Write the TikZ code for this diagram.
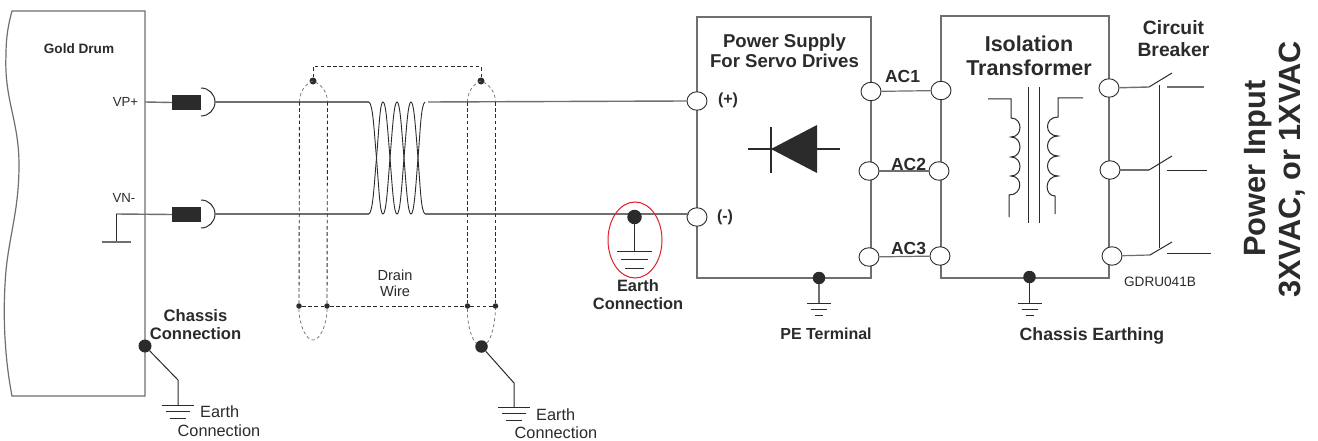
\documentclass[tikz,border=0pt]{standalone}
\usepackage{fontspec}
\setmainfont{Liberation Sans}
\usetikzlibrary{shapes.geometric,calc}
\definecolor{ink}{HTML}{2B2B2B}
\definecolor{wire}{HTML}{6F6F6F}
\definecolor{redring}{HTML}{E0202A}
\newcommand{\fs}[1]{\fontsize{#1}{#1}\selectfont}
\newcommand{\earth}[4]{% point, half width, step, inset
  \draw[gline] ($(#1)+(-#2,0)$) -- ($(#1)+(#2,0)$);
  \draw[gline] ($(#1)+(-#2+#4,#3)$) -- ($(#1)+(#2-#4,#3)$);
  \draw[gline] ($(#1)+(-#2+2*#4,2*#3)$) -- ($(#1)+(#2-2*#4,2*#3)$);}
\tikzset{
  x=1pt,y=-1pt,
  box/.style={draw=wire,line width=1.2pt,rectangle,inner sep=0pt,fill=white},
  term/.style={draw=ink,line width=0.9pt,fill=white,ellipse,minimum width=20pt,minimum height=18.5pt,inner sep=0pt},
  wireline/.style={wire,line width=1.4pt},
  acline/.style={wire,line width=1.2pt},
  gline/.style={ink,line width=1pt},
  dotb/.style={circle,fill=ink,inner sep=0pt,minimum size=#1},
  shield/.style={ink,line width=0.9pt,dash pattern=on 3.6pt off 2.6pt},
  shieldarc/.style={wire,line width=0.7pt,dash pattern=on 3.2pt off 2.6pt},
  lab/.style={text=ink,inner sep=0pt,align=center},
  plug/.style={fill=ink,draw=none,rectangle,minimum width=29pt,minimum height=15pt,inner sep=0pt},
}
\begin{document}
\begin{tikzpicture}
\useasboundingbox (0,0) rectangle (1318,441);
\fill[white] (0,0) rectangle (1318,441);

% ---------- Gold Drum body
\draw[wire,line width=1.2pt,fill=white] (12,11) -- (145,11) -- (145,396) -- (12,396)
  .. controls (5,360) and (3,320) .. (5,285)
  .. controls (7,240) and (19,215) .. (19,165)
  .. controls (19,120) and (4,100) .. (6,55)
  .. controls (6,35) and (9,22) .. (12,11) -- cycle;
\node[lab,font=\fs{13.6}\bfseries] (gold) at (79,49) {Gold Drum};
\node[lab,font=\fs{13.2}] (vp) at (125.5,102) {VP+};
\node[lab,font=\fs{13.2}] (vn) at (124,198) {VN-};

% ---------- Power supply and transformer boxes
\node[box,minimum width=174pt,minimum height=261pt] (ps) at (784,147.5) {};
\node[box,minimum width=168pt,minimum height=262pt] (tr) at (1025,147) {};

% ---------- Named points
\node[plug] (plugA) at (186.5,102.5) {};
\node[plug] (plugB) at (186.5,214.5) {};
\coordinate (jackA) at (215,102);
\coordinate (jackB) at (215,214);
\coordinate (twA0) at (369,102);
\coordinate (twB0) at (369,214);
\coordinate (twA1) at (428,102);
\coordinate (twB1) at (425,214);
\coordinate (vngnd) at (116,214);
\coordinate (vngndb) at (116,242);
\coordinate (drumwall) at (145,102);
\coordinate (minusin) at (689,214);

% terminals
\node[term] (pplus) at (697,101) {};
\node[term] (pminus) at (697,217) {};
\node[term] (o1) at (871,91.5) {};
\node[term] (o2) at (869,171) {};
\node[term] (o3) at (869,257) {};
\node[term] (i1) at (941,90.5) {};
\node[term] (i2) at (939,171) {};
\node[term] (i3) at (940,256) {};
\node[term] (t1) at (1109,88) {};
\node[term] (t2) at (1110,170) {};
\node[term] (t3) at (1112,256) {};

% ---------- Drive to cable wiring
\draw[wireline] (drumwall) -- (plugA.west);
\draw[wireline] (vngnd) -- (plugB.west);
\draw[gline] (vngnd) -- (vngndb);
\draw[wireline] ($(vngndb)+(-14.5,0)$) -- ($(vngndb)+(14.5,0)$);
\draw[ink,line width=1pt] (201,88) arc[start angle=-90,end angle=90,radius=14];
\draw[ink,line width=1pt] (201,200) arc[start angle=-90,end angle=90,radius=14];
\draw[wireline] (jackA) -- (twA0);
\draw[wireline] (jackB) -- (twB0);

% twisted pair
\draw[ink,line width=0.9pt] (twA0) .. controls (373,105) and (374,130) .. (376.5,158)
  .. controls (379,190) and (380,214) .. (383,214)
  .. controls (386,214) and (387.5,190) .. (390,158)
  .. controls (392.5,128) and (394,102) .. (397,102)
  .. controls (400,102) and (401.5,128) .. (404,158)
  .. controls (406.5,190) and (408,214) .. (411,214)
  .. controls (414,214) and (415.5,190) .. (418,158)
  .. controls (420.5,128) and (421,105) .. (425,102);
\draw[ink,line width=0.9pt] (twB0) .. controls (373,211) and (374,186) .. (376.5,158)
  .. controls (379,128) and (380,102) .. (383,102)
  .. controls (386,102) and (387.5,128) .. (390,158)
  .. controls (392.5,190) and (394,214) .. (397,214)
  .. controls (400,214) and (401.5,190) .. (404,158)
  .. controls (406.5,128) and (408,102) .. (411,102)
  .. controls (414,102) and (415.5,128) .. (418,158)
  .. controls (420.5,190) and (421,211) .. (425,214);
\draw[wireline] (twA1) -- (pplus.west);
\draw[wireline] (twB1) -- (minusin);

% ---------- Shields
\node[dotb=7pt] (sa) at (313,81) {};
\node[dotb=7pt] (sb) at (481,81) {};
\node[dotb=5.5pt] (da) at (299,306) {};
\node[dotb=5.5pt] (db) at (327,306) {};
\node[dotb=5.5pt] (dc) at (467.5,306) {};
\node[dotb=5.5pt] (dd) at (495.5,306) {};
\node[dotb=12.5pt] (se) at (481.5,346.5) {};
\draw[shieldarc] (299.5,102) .. controls (299.5,92) and (305,84) .. (sa.center)
  .. controls (321,84) and (327.5,92) .. (327.5,102);
\draw[shieldarc] (467.5,102) .. controls (467.5,92) and (473,84) .. (sb.center)
  .. controls (489,84) and (495.5,92) .. (495.5,102);
\draw[shield] (299.5,102) -- (da);
\draw[shield] (327.5,102) -- (db);
\draw[shield] (467.5,102) -- (dc);
\draw[shield] (495.5,102) -- (dd);
\draw[shield] (sa) -- (313,66.5) -- (481,66.5) -- (sb);
\draw[shield] (da) -- (db) -- (dc) -- (dd);
\draw[shieldarc] (da) .. controls (299,325) and (306,340) .. (313,340)
  .. controls (320,340) and (327,325) .. (db);
\draw[shieldarc] (dc) .. controls (467,325) and (472,340) .. (se)
  .. controls (491,340) and (495,325) .. (dd);
\node[lab,font=\fs{14.6}] (drain) at (395,283.5) {Drain\\[1.5pt]Wire};

% shield earth
\coordinate (se1) at (514,383);
\coordinate (se2) at (514,407);
\draw[gline] (se) -- (se1) -- (se2);
\earth{se2}{16}{6.5}{4}
\node[lab,font=\fs{16.3},anchor=west] (e2a) at (536,414.5) {Earth};
\node[lab,font=\fs{16.3},anchor=west] (e2b) at (514.5,433) {Connection};

% ---------- Chassis connection
\node[dotb=13pt] (cc) at (145,346) {};
\coordinate (cc1) at (178,380);
\coordinate (cc2) at (178,405);
\draw[gline] (cc) -- (cc1) -- (cc2);
\earth{cc2}{16}{6.5}{4}
\node[lab,font=\fs{16.6}\bfseries] (cct) at (195.5,324.5) {Chassis\\[1.5pt]Connection};
\node[lab,font=\fs{16.3},anchor=west] (e1a) at (200,412) {Earth};
\node[lab,font=\fs{16.3},anchor=west] (e1b) at (177.5,430.5) {Connection};

% ---------- Earth connection (ringed)
\node[dotb=14.5pt] (ec) at (634.5,217) {};
\coordinate (ec1) at (634.5,251);
\draw[gline] (ec) -- (ec1);
\earth{ec1}{17.5}{8.5}{4}
\node[draw=redring,line width=1pt,ellipse,minimum width=54pt,minimum height=76pt,inner sep=0pt] (ring) at (635,240) {};
\node[lab,font=\fs{16.4}\bfseries] (ect) at (638,295) {Earth\\[1.5pt]Connection};

% ---------- Power supply content
\node[lab,font=\fs{18.6}\bfseries] (pst) at (784.5,51) {Power Supply\\[2pt]For Servo Drives};
\node[lab,font=\fs{16}\bfseries] (plust) at (728,100) {(+)};
\node[lab,font=\fs{16}\bfseries] (minust) at (725,217) {(-)};
\coordinate (dl) at (748,149);
\coordinate (dr) at (840,149);
\coordinate (dk) at (771,149);
\coordinate (da1) at (817,125);
\coordinate (da2) at (817,173);
\draw[ink,line width=2pt] (dl) -- (dr);
\draw[ink,line width=2pt] (771,127) -- (771,173);
\fill[ink] (dk) -- (da1) -- (da2) -- cycle;

\draw[acline] (o1) -- (i1);
\draw[acline] (o2) -- (i2);
\draw[acline] (o3) -- (i3);
\node[lab,font=\fs{17.5}\bfseries] (ac1) at (902.5,76) {AC1};
\node[lab,font=\fs{17.5}\bfseries] (ac2) at (908.5,164) {AC2};
\node[lab,font=\fs{17.5}\bfseries] (ac3) at (908.5,248) {AC3};

\node[dotb=12.5pt] (pe) at (819,278) {};
\coordinate (pe1) at (819,303);
\draw[wireline] (pe) -- (pe1);
\earth{pe1}{12}{6}{4}
\node[lab,font=\fs{16}\bfseries] (pet) at (826,334) {PE Terminal};

% ---------- Isolation transformer content
\node[lab,font=\fs{21.5}\bfseries] (trt) at (1029,56) {Isolation\\[2pt]Transformer};
\draw[gline] (1028,87) -- (1028,223);
\draw[gline] (1039,87) -- (1039,223);
\coordinate (wl0) at (988,99);
\coordinate (wl1) at (1011,99);
\coordinate (wl2) at (1011,118);
\coordinate (wl3) at (1009,195);
\coordinate (wl4) at (1009,217);
\draw[gline] (wl0) -- (wl1) -- (wl2)
  .. controls (1023,118) and (1023,137) .. (1011,137)
  .. controls (1023,137) and (1023,157) .. (1011,157)
  .. controls (1023,157) and (1023,176) .. (1011,176)
  .. controls (1023,176) and (1023,195) .. (wl3) -- (wl4);
\coordinate (wr0) at (1083,98);
\coordinate (wr1) at (1058,98);
\coordinate (wr2) at (1058,117);
\coordinate (wr3) at (1055,196);
\coordinate (wr4) at (1055,214);
\draw[gline] (wr0) -- (wr1) -- (wr2)
  .. controls (1044,117) and (1044,136) .. (1058,136)
  .. controls (1044,136) and (1044,156) .. (1058,156)
  .. controls (1044,156) and (1044,176) .. (1058,176)
  .. controls (1044,176) and (1044,196) .. (wr3) -- (wr4);

\node[dotb=12.5pt] (ch) at (1029.5,277) {};
\coordinate (ch1) at (1029.5,303);
\draw[gline] (ch) -- (ch1);
\earth{ch1}{12}{6}{4}
\node[lab,font=\fs{17.7}\bfseries] (cht) at (1092,336) {Chassis Earthing};
\node[lab,font=\fs{13.6}] (code) at (1160,282) {GDRU041B};

% ---------- Circuit breaker
\coordinate (b1) at (1149,87);
\coordinate (b2) at (1149,170);
\coordinate (b3) at (1150,255);
\coordinate (s1) at (1172,73);
\coordinate (s2) at (1172,156);
\coordinate (s3) at (1172,242);
\coordinate (c1) at (1167,87);
\coordinate (c2) at (1167,170.5);
\coordinate (c3) at (1167,253);
\coordinate (ce1) at (1204,87);
\coordinate (ce2) at (1207,170.5);
\coordinate (ce3) at (1211,253);
\draw[wireline] (t1) -- (b1);
\draw[wireline] (t2) -- (b2);
\draw[acline] (t3) -- (b3);
\draw[gline] (b1) -- (s1);
\draw[gline] (b2) -- (s2);
\draw[gline] (b3) -- (s3);
\draw[wireline] (c1) -- (ce1);
\draw[gline] (c2) -- (ce2);
\draw[gline] (c3) -- (ce3);
\draw[gline] (1159,85) -- (1159,248);
\node[lab,font=\fs{19.3}\bfseries] (cbt) at (1173.5,38.5) {Circuit\\[3pt]Breaker};

% ---------- Power input
\node[lab,font=\fs{30.8}\bfseries,rotate=90] (pi1) at (1258,168.5) {Power Input};
\node[lab,font=\fs{30.7}\bfseries,rotate=90] (pi2) at (1292,169.5) {3XVAC, or 1XVAC};
\end{tikzpicture}
\end{document}
